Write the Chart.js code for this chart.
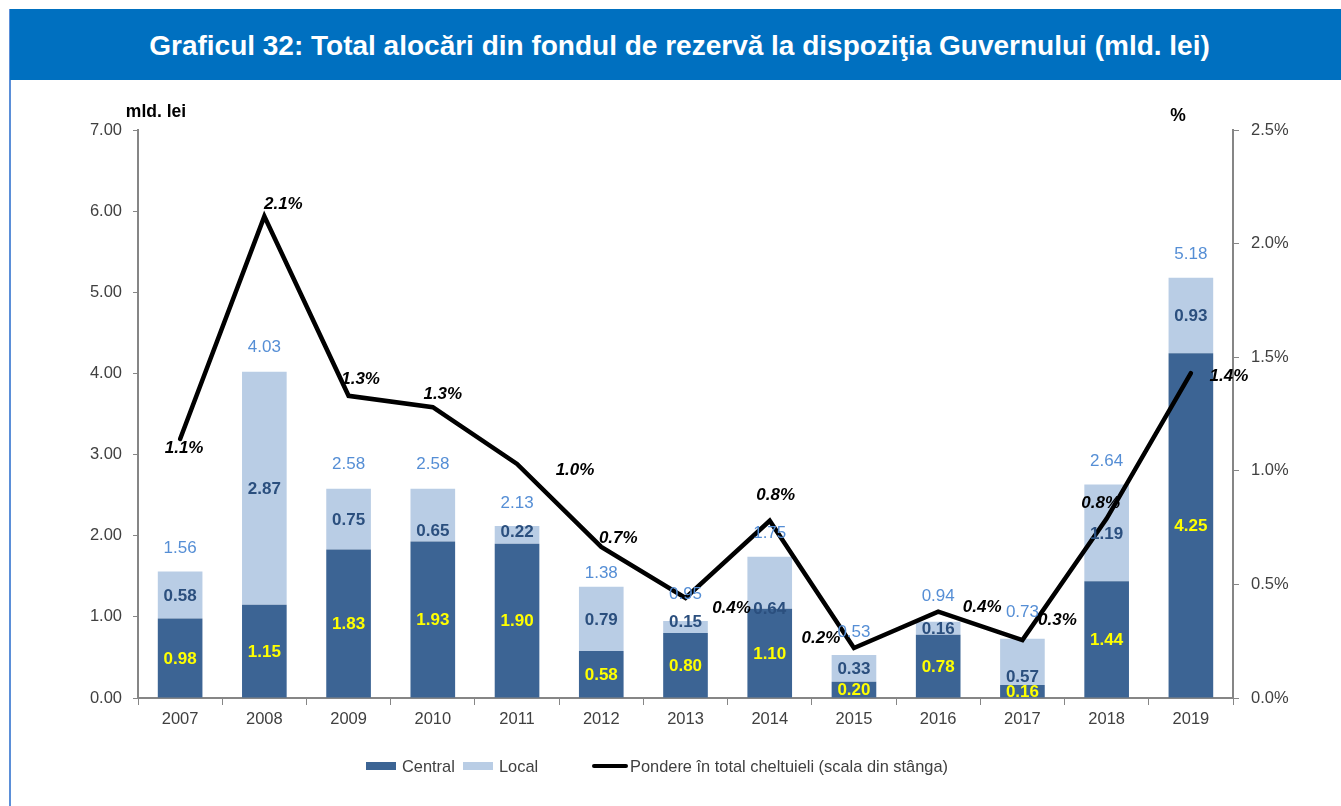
<!DOCTYPE html>
<html>
<head>
<meta charset="utf-8">
<script src="https://cdn.jsdelivr.net/npm/chart.js@4.4.1/dist/chart.umd.min.js"></script>
<style>
  html, body { margin: 0; padding: 0; background: #fff; width: 1341px; height: 806px; overflow: hidden; font-family: "Liberation Sans", Arial, sans-serif; }
  #banner { position: absolute; left: 10px; top: 9px; width: 1331px; height: 71px; background: #0070C0; color: #fff; font-weight: bold; font-size: 28px; display: flex; align-items: center; justify-content: center; }
  #banner span { position: relative; left: 4px; top: 1px; }
  #vline { position: absolute; left: 9px; top: 9px; width: 2px; height: 797px; background: #5B8FD8; }
  #wrap { position: absolute; left: 0; top: 80px; width: 1341px; height: 726px; }
  .leg { position: absolute; font-size: 16.4px; color: #404040; line-height: 18px; }
  .sw { position: absolute; }
</style>
</head>
<body>
<div id="vline"></div>
<div id="banner"><span>Graficul 32: Total alocări din fondul de rezervă la dispoziţia Guvernului (mld. lei)</span></div>
<div id="wrap"><canvas id="c" width="1341" height="726"></canvas></div>
<div class="sw" style="left:366px;top:762px;width:30px;height:8px;background:#3C6494"></div>
<div class="leg" style="left:402px;top:757px">Central</div>
<div class="sw" style="left:463px;top:762px;width:30px;height:8px;background:#B9CDE5"></div>
<div class="leg" style="left:499px;top:757px">Local</div>
<div class="sw" style="left:592px;top:764px;width:36px;height:4px;background:#000;border-radius:2px"></div>
<div class="leg" style="left:630px;top:757px">Pondere în total cheltuieli (scala din stânga)</div>
<script>
const years = ["2007","2008","2009","2010","2011","2012","2013","2014","2015","2016","2017","2018","2019"];
const central = [0.98, 1.15, 1.83, 1.93, 1.90, 0.58, 0.80, 1.10, 0.20, 0.78, 0.16, 1.44, 4.25];
const local = [0.58, 2.87, 0.75, 0.65, 0.22, 0.79, 0.15, 0.64, 0.33, 0.16, 0.57, 1.19, 0.93];
const totals = [1.56, 4.03, 2.58, 2.58, 2.13, 1.38, 0.95, 1.75, 0.53, 0.94, 0.73, 2.64, 5.18];
const share = [1.14, 2.12, 1.33, 1.28, 1.03, 0.665, 0.44, 0.78, 0.22, 0.38, 0.255, 0.79, 1.43];
const shareLabels = ["1.1%","2.1%","1.3%","1.3%","1.0%","0.7%","0.4%","0.8%","0.2%","0.4%","0.3%","0.8%","1.4%"];
const leftTicks = [0, 1, 2, 3, 4, 5, 6, 7];
const rightTicks = [0, 0.5, 1.0, 1.5, 2.0, 2.5];

// label placement (pixel offsets, styling only)
const shareLabelOffsets = [[4,9],[19,-12],[12,-17],[10,-13],[58,6],[17,-9],[46,10],[6,-25],[-33,-10],[44,-4],[35,-20],[-6,-15],[38,3]];
const totalLabelGap = [23,24,24,24,23,14,27,23,23,25,26,23,23];
const localLabelShift = [0,0,0,15,-4,0,-6,26,0,0,14,0,0];

const FONT = '"Liberation Sans", Arial, sans-serif';
const axisColor = '#868686';

const labelPlugin = {
  id: 'labels',
  afterDatasetsDraw(chart) {
    const ctx = chart.ctx;
    const mC = chart.getDatasetMeta(0).data;
    const mL = chart.getDatasetMeta(1).data;
    const mS = chart.getDatasetMeta(2).data;
    ctx.save();
    ctx.textAlign = 'center';
    ctx.textBaseline = 'middle';
    for (let i = 0; i < years.length; i++) {
      const c = mC[i], l = mL[i], s = mS[i];
      ctx.font = 'bold 17px ' + FONT;
      ctx.fillStyle = '#FFFF00';
      ctx.fillText(central[i].toFixed(2), c.x, (c.y + c.base) / 2 + 1);
      ctx.fillStyle = '#2B4F7E';
      ctx.fillText(local[i].toFixed(2), l.x, (l.y + l.base) / 2 + 1 + localLabelShift[i]);
      ctx.font = '17px ' + FONT;
      ctx.fillStyle = '#558ED5';
      ctx.fillText(totals[i].toFixed(2), l.x, l.y - totalLabelGap[i]);
      ctx.font = 'italic bold 17px ' + FONT;
      ctx.fillStyle = '#000';
      ctx.fillText(shareLabels[i], s.x + shareLabelOffsets[i][0], s.y + shareLabelOffsets[i][1]);
    }
    // axis titles
    ctx.font = 'bold 17.5px ' + FONT;
    ctx.fillStyle = '#000';
    ctx.fillText('mld. lei', 156, 32);
    ctx.fillText('%', 1178, 36);
    ctx.restore();
  }
};

new Chart(document.getElementById('c'), {
  type: 'bar',
  data: {
    labels: years,
    datasets: [
      { label: 'Central', data: central, backgroundColor: '#3C6494', stack: 's', order: 2, yAxisID: 'y' },
      { label: 'Local', data: local, backgroundColor: '#B9CDE5', stack: 's', order: 2, yAxisID: 'y' },
      { label: 'Pondere în total cheltuieli (scala din stânga)', type: 'line', data: share, yAxisID: 'y1', borderColor: '#000', borderWidth: 4.5, pointRadius: 0, tension: 0, order: 0, borderJoinStyle: 'miter', borderCapStyle: 'round' }
    ]
  },
  options: {
    responsive: false,
    animation: false,
    events: [],
    layout: { padding: { top: 50, left: 0, right: 0, bottom: 0 } },
    plugins: { legend: { display: false }, tooltip: { enabled: false } },
    datasets: { bar: { categoryPercentage: 1.0, barPercentage: 0.53 } },
    scales: {
      x: {
        stacked: true,
        grid: { display: true, drawOnChartArea: false, drawTicks: true, tickLength: 7, color: axisColor, offset: true },
        border: { display: true, color: axisColor, width: 2 },
        ticks: { color: '#404040', font: { family: FONT, size: 16.5 }, padding: 5 },
        afterFit(s) { s.height = 108; }
      },
      y: {
        stacked: true,
        position: 'left',
        min: 0, max: 7,
        afterBuildTicks(s) { s.ticks = leftTicks.map(v => ({ value: v })); },
        grid: { display: true, drawOnChartArea: false, drawTicks: true, tickLength: 5, color: axisColor },
        border: { display: true, color: axisColor, width: 2 },
        ticks: { color: '#404040', font: { family: FONT, size: 16.5 }, padding: 11, callback: v => Number(v).toFixed(2) },
        afterFit(s) { s.width = 138; }
      },
      y1: {
        position: 'right',
        min: 0, max: 2.5,
        afterBuildTicks(s) { s.ticks = rightTicks.map(v => ({ value: v })); },
        grid: { display: true, drawOnChartArea: false, drawTicks: true, tickLength: 6, color: axisColor },
        border: { display: true, color: axisColor, width: 2 },
        ticks: { color: '#404040', font: { family: FONT, size: 16.5 }, padding: 12, callback: v => Number(v).toFixed(1) + '%' },
        afterFit(s) { s.width = 108; }
      }
    }
  },
  plugins: [labelPlugin]
});
</script>
</body>
</html>
